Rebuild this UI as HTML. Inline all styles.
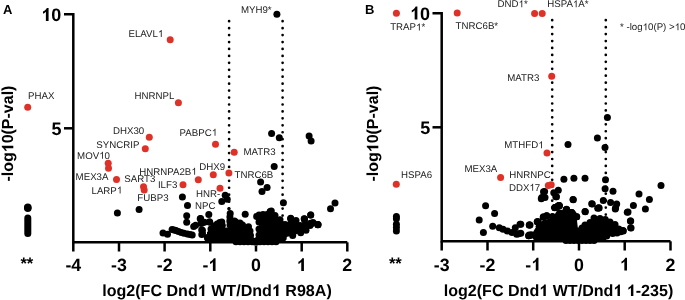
<!DOCTYPE html>
<html><head><meta charset="utf-8"><style>
html,body{margin:0;padding:0;background:#fff;width:685px;height:300px;overflow:hidden}
svg{display:block;font-family:"Liberation Sans",sans-serif;will-change:transform;text-rendering:geometricPrecision}
.l{font-size:9.7px;fill:#222}
.o{fill-opacity:0}
</style></head><body>
<svg width="685" height="300" viewBox="0 0 685 300">
<path d="M64,14.3 H73.3 V242.3 H347.3" fill="none" stroke="#000" stroke-width="2.5"/>
<line x1="73.3" y1="242.3" x2="73.3" y2="251.5" stroke="#000" stroke-width="2.5"/>
<line x1="119.0" y1="242.3" x2="119.0" y2="251.5" stroke="#000" stroke-width="2.5"/>
<line x1="164.6" y1="242.3" x2="164.6" y2="251.5" stroke="#000" stroke-width="2.5"/>
<line x1="210.3" y1="242.3" x2="210.3" y2="251.5" stroke="#000" stroke-width="2.5"/>
<line x1="256.0" y1="242.3" x2="256.0" y2="251.5" stroke="#000" stroke-width="2.5"/>
<line x1="301.7" y1="242.3" x2="301.7" y2="251.5" stroke="#000" stroke-width="2.5"/>
<line x1="347.3" y1="242.3" x2="347.3" y2="251.5" stroke="#000" stroke-width="2.5"/>
<line x1="64" y1="128.3" x2="73.3" y2="128.3" stroke="#000" stroke-width="2.5"/>
<line x1="229.1" y1="21.2" x2="229.1" y2="242" stroke="#000" stroke-width="2.7" stroke-linecap="round" stroke-dasharray="0.01 6.93"/>
<line x1="282.6" y1="21.2" x2="282.6" y2="242" stroke="#000" stroke-width="2.7" stroke-linecap="round" stroke-dasharray="0.01 6.93"/>
<text x="65.39" y="271" font-size="17.8" font-weight="bold">-</text><text x="71.32" y="271" font-size="17.8" font-weight="bold">4</text>
<text x="111.06" y="271" font-size="17.8" font-weight="bold">-</text><text x="116.99" y="271" font-size="17.8" font-weight="bold">3</text>
<text x="156.73" y="271" font-size="17.8" font-weight="bold">-</text><text x="162.66" y="271" font-size="17.8" font-weight="bold">2</text>
<text x="202.40" y="271" font-size="17.8" font-weight="bold">-</text><path d="M7.3,0 H4.6 V-9.2 C3.8,-8.3 2.8,-7.6 1.7,-7.1 V-9.3 C2.4,-9.6 3.2,-10.1 4.0,-10.8 C4.8,-11.5 5.3,-12.2 5.6,-12.9 H7.3 Z" transform="translate(208.33,271) scale(0.9889)"/>
<text x="251.03" y="271" font-size="17.8" font-weight="bold">0</text>
<path d="M7.3,0 H4.6 V-9.2 C3.8,-8.3 2.8,-7.6 1.7,-7.1 V-9.3 C2.4,-9.6 3.2,-10.1 4.0,-10.8 C4.8,-11.5 5.3,-12.2 5.6,-12.9 H7.3 Z" transform="translate(296.70,271) scale(0.9889)"/>
<text x="342.37" y="271" font-size="17.8" font-weight="bold">2</text>
<path d="M7.3,0 H4.6 V-9.2 C3.8,-8.3 2.8,-7.6 1.7,-7.1 V-9.3 C2.4,-9.6 3.2,-10.1 4.0,-10.8 C4.8,-11.5 5.3,-12.2 5.6,-12.9 H7.3 Z" transform="translate(41.28,20.9) scale(1.0000)"/><text x="51.29" y="20.9" font-size="18" font-weight="bold">0</text>
<text x="61.5" y="134.5" font-size="18" font-weight="bold" text-anchor="end">5</text>
<text x="102.2" y="296" font-size="16.08" font-weight="bold">log2(FC Dnd<tspan class="o">1</tspan> WT/Dnd<tspan class="o">1</tspan> R98A)</text>
<text transform="translate(13.3,181.6) rotate(-90)" font-size="16" font-weight="bold">-log<tspan class="o">1</tspan>0(P-val)</text>
<text x="3" y="14" font-size="13" font-weight="bold">A</text>
<text x="20.4" y="268.9" font-size="16.6" font-weight="bold">**</text>
<circle cx="27.8" cy="207.3" r="3.75" fill="#000"/>
<circle cx="27.8" cy="208.3" r="3.75" fill="#000"/>
<rect x="24.3" y="214.6" width="7" height="22.4" rx="3.5" fill="#000"/>
<circle cx="255.9" cy="242.6" r="3.5" fill="#de3228"/>
<circle cx="276.9" cy="14.3" r="3.5" fill="#000"/>
<circle cx="309.1" cy="136" r="3.5" fill="#000"/>
<circle cx="311.1" cy="141.1" r="3.5" fill="#000"/>
<circle cx="271.6" cy="133.4" r="3.5" fill="#000"/>
<circle cx="279.3" cy="137.7" r="3.5" fill="#000"/>
<circle cx="274.2" cy="166.6" r="3.5" fill="#000"/>
<circle cx="260.6" cy="182.1" r="3.5" fill="#000"/>
<circle cx="267.1" cy="187.5" r="3.5" fill="#000"/>
<circle cx="262" cy="191.6" r="3.5" fill="#000"/>
<circle cx="283.4" cy="202.8" r="3.5" fill="#000"/>
<circle cx="270.2" cy="211.5" r="3.5" fill="#000"/>
<circle cx="117.4" cy="213" r="3.5" fill="#000"/>
<circle cx="139.1" cy="209.6" r="3.5" fill="#000"/>
<circle cx="182.4" cy="197" r="3.5" fill="#000"/>
<circle cx="187.5" cy="205.5" r="3.5" fill="#000"/>
<circle cx="186.7" cy="215.7" r="3.5" fill="#000"/>
<circle cx="186.7" cy="222.2" r="3.5" fill="#000"/>
<circle cx="193.7" cy="226.4" r="3.5" fill="#000"/>
<circle cx="163" cy="233" r="3.5" fill="#000"/>
<circle cx="167.5" cy="234.3" r="3.5" fill="#000"/>
<circle cx="172.1" cy="229.6" r="3.5" fill="#000"/>
<circle cx="174" cy="230" r="3.5" fill="#000"/>
<circle cx="176" cy="230.5" r="3.5" fill="#000"/>
<circle cx="178.5" cy="231.5" r="3.5" fill="#000"/>
<circle cx="181.3" cy="232.5" r="3.5" fill="#000"/>
<circle cx="184" cy="233.2" r="3.5" fill="#000"/>
<circle cx="187.4" cy="234" r="3.5" fill="#000"/>
<circle cx="190" cy="234.5" r="3.5" fill="#000"/>
<circle cx="192.2" cy="234.9" r="3.5" fill="#000"/>
<circle cx="221.8" cy="201.4" r="3.5" fill="#000"/>
<circle cx="227.2" cy="199.3" r="3.5" fill="#000"/>
<circle cx="225.2" cy="195.2" r="3.5" fill="#000"/>
<circle cx="335" cy="203" r="3.5" fill="#000"/>
<circle cx="330.5" cy="208.7" r="3.5" fill="#000"/>
<circle cx="310.7" cy="215" r="3.5" fill="#000"/>
<circle cx="304.5" cy="219.2" r="3.5" fill="#000"/>
<circle cx="318" cy="224.5" r="3.5" fill="#000"/>
<circle cx="310.5" cy="223.2" r="3.5" fill="#000"/>
<circle cx="200.2" cy="218.7" r="3.5" fill="#000"/>
<circle cx="202.5" cy="222.5" r="3.5" fill="#000"/>
<circle cx="201.7" cy="230" r="3.5" fill="#000"/>
<circle cx="202.5" cy="233.7" r="3.5" fill="#000"/>
<circle cx="208.8" cy="214.4" r="3.5" fill="#000"/>
<circle cx="209.5" cy="221.7" r="3.5" fill="#000"/>
<circle cx="245.2" cy="214.2" r="3.5" fill="#000"/>
<circle cx="259" cy="215" r="3.5" fill="#000"/>
<circle cx="256.7" cy="216.5" r="3.5" fill="#000"/>
<circle cx="270.2" cy="212" r="3.5" fill="#000"/>
<circle cx="279.5" cy="220.2" r="3.5" fill="#000"/>
<circle cx="290.7" cy="218.7" r="3.5" fill="#000"/>
<circle cx="304.2" cy="218.7" r="3.5" fill="#000"/>
<circle cx="311" cy="224" r="3.5" fill="#000"/>
<circle cx="317.7" cy="224.7" r="3.5" fill="#000"/>
<circle cx="207.7" cy="237.5" r="3.5" fill="#000"/>
<circle cx="200.6" cy="218.5" r="3.5" fill="#000"/>
<circle cx="201.2" cy="223.4" r="3.5" fill="#000"/>
<circle cx="204.3" cy="222.2" r="3.5" fill="#000"/>
<circle cx="209.8" cy="222.2" r="3.5" fill="#000"/>
<circle cx="202.4" cy="230.2" r="3.5" fill="#000"/>
<circle cx="201.8" cy="234.5" r="3.5" fill="#000"/>
<circle cx="195.6" cy="225.3" r="3.5" fill="#000"/>
<circle cx="211" cy="229" r="3.5" fill="#000"/>
<circle cx="214" cy="226" r="3.5" fill="#000"/>
<circle cx="217.2" cy="224" r="3.5" fill="#000"/>
<circle cx="219.7" cy="222.5" r="3.5" fill="#000"/>
<circle cx="221.8" cy="222" r="3.5" fill="#000"/>
<circle cx="222.3" cy="225.5" r="3.5" fill="#000"/>
<circle cx="226.3" cy="231" r="3.5" fill="#000"/>
<circle cx="230.2" cy="213.6" r="3.5" fill="#000"/>
<circle cx="229.9" cy="217" r="3.5" fill="#000"/>
<circle cx="229.8" cy="221" r="3.5" fill="#000"/>
<circle cx="230" cy="225" r="3.5" fill="#000"/>
<circle cx="234.5" cy="221" r="3.5" fill="#000"/>
<circle cx="235.7" cy="222" r="3.5" fill="#000"/>
<circle cx="240" cy="223" r="3.5" fill="#000"/>
<circle cx="242.5" cy="225" r="3.5" fill="#000"/>
<circle cx="248.5" cy="226.7" r="3.5" fill="#000"/>
<circle cx="250" cy="231" r="3.5" fill="#000"/>
<circle cx="250.5" cy="235.5" r="3.5" fill="#000"/>
<circle cx="259" cy="229" r="3.5" fill="#000"/>
<circle cx="259" cy="235" r="3.5" fill="#000"/>
<circle cx="258.5" cy="216.5" r="3.5" fill="#000"/>
<circle cx="259" cy="222" r="3.5" fill="#000"/>
<circle cx="263" cy="214.5" r="3.5" fill="#000"/>
<circle cx="267" cy="214.5" r="3.5" fill="#000"/>
<circle cx="270.2" cy="212.5" r="3.5" fill="#000"/>
<circle cx="271.3" cy="211" r="3.5" fill="#000"/>
<circle cx="275" cy="215.5" r="3.5" fill="#000"/>
<circle cx="280" cy="219.7" r="3.5" fill="#000"/>
<circle cx="285" cy="224.5" r="3.5" fill="#000"/>
<circle cx="290.7" cy="218.3" r="3.5" fill="#000"/>
<circle cx="296" cy="220.5" r="3.5" fill="#000"/>
<circle cx="300" cy="225.5" r="3.5" fill="#000"/>
<circle cx="304.4" cy="219" r="3.5" fill="#000"/>
<circle cx="310.7" cy="215" r="3.5" fill="#000"/>
<circle cx="310.7" cy="223.7" r="3.5" fill="#000"/>
<circle cx="318" cy="224.7" r="3.5" fill="#000"/>
<circle cx="313" cy="222.5" r="3.5" fill="#000"/>
<circle cx="310" cy="225.5" r="3.5" fill="#000"/>
<circle cx="306" cy="230.2" r="3.5" fill="#000"/>
<circle cx="300.7" cy="232.8" r="3.5" fill="#000"/>
<circle cx="292.7" cy="235.5" r="3.5" fill="#000"/>
<circle cx="283.3" cy="237.8" r="3.5" fill="#000"/>
<circle cx="279" cy="238.8" r="3.5" fill="#000"/>
<circle cx="207.5" cy="238" r="3.5" fill="#000"/>
<circle cx="210" cy="238.5" r="3.5" fill="#000"/>
<circle cx="236" cy="241.7" r="3.5" fill="#000"/>
<circle cx="240" cy="241.7" r="3.5" fill="#000"/>
<circle cx="244" cy="241.7" r="3.5" fill="#000"/>
<circle cx="248" cy="241.7" r="3.5" fill="#000"/>
<circle cx="252" cy="241.7" r="3.5" fill="#000"/>
<circle cx="256" cy="241.7" r="3.5" fill="#000"/>
<circle cx="260" cy="241.7" r="3.5" fill="#000"/>
<circle cx="264" cy="241.7" r="3.5" fill="#000"/>
<circle cx="268" cy="241.7" r="3.5" fill="#000"/>
<circle cx="272" cy="241.7" r="3.5" fill="#000"/>
<circle cx="276" cy="241.7" r="3.5" fill="#000"/>
<circle cx="228.9" cy="208.7" r="1.7" fill="#000"/>
<polygon points="207,242 207,232 211,229 214,226 219.7,222.5 222.3,225.5 226.3,231 230,225 229.9,217 235.7,222 242.5,225 248.5,226.7 250,231 250.5,235.5 254.5,238 259,235 259,222 258.5,216.5 263,214.5 270.2,212.5 275,215.5 280,219.7 285,224.5 290.7,218.3 296,220.5 300,225.5 304.4,219 310.7,223.7 306,230.2 300.7,232.8 292.7,235.5 283.3,237.8 279,240 279,242" fill="#000"/>
<circle cx="27.7" cy="107.3" r="3.5" fill="#de3228"/>
<circle cx="170.2" cy="39.7" r="3.5" fill="#de3228"/>
<circle cx="178.4" cy="102.8" r="3.5" fill="#de3228"/>
<circle cx="149.3" cy="137.3" r="3.5" fill="#de3228"/>
<circle cx="145.3" cy="148.7" r="3.5" fill="#de3228"/>
<circle cx="215.5" cy="144.2" r="3.5" fill="#de3228"/>
<circle cx="234.2" cy="152.2" r="3.5" fill="#de3228"/>
<circle cx="108.2" cy="163.2" r="3.5" fill="#de3228"/>
<circle cx="108.5" cy="168.3" r="3.5" fill="#de3228"/>
<circle cx="116.5" cy="179.5" r="3.5" fill="#de3228"/>
<circle cx="143.5" cy="186.7" r="3.5" fill="#de3228"/>
<circle cx="144.2" cy="189.9" r="3.5" fill="#de3228"/>
<circle cx="198.3" cy="179.7" r="3.5" fill="#de3228"/>
<circle cx="183" cy="184.7" r="3.5" fill="#de3228"/>
<circle cx="213.3" cy="174.7" r="3.5" fill="#de3228"/>
<circle cx="228.9" cy="172.9" r="3.5" fill="#de3228"/>
<circle cx="220" cy="188.3" r="3.5" fill="#de3228"/>
<text x="28" y="98.7" class="l">PHAX</text>
<text x="128.5" y="36.9" class="l">ELAVL<tspan class="o">1</tspan></text>
<text x="134.5" y="98.7" class="l">HNRNPL</text>
<text x="240.9" y="13.3" class="l">MYH9*</text>
<text x="113" y="133.8" class="l">DHX30</text>
<text x="96.3" y="148" class="l">SYNCRIP</text>
<text x="179.6" y="135.8" class="l">PABPC<tspan class="o">1</tspan></text>
<text x="77.1" y="158.8" class="l">MOV<tspan class="o">1</tspan>0</text>
<text x="243.5" y="155" class="l">MATR3</text>
<text x="139.3" y="174.8" class="l">HNRNPA2B<tspan class="o">1</tspan></text>
<text x="199.3" y="170" class="l">DHX9</text>
<text x="75.6" y="179.6" class="l">MEX3A</text>
<text x="124.3" y="182" class="l">SART3</text>
<text x="157.9" y="188" class="l">ILF3</text>
<text x="234.5" y="177.8" class="l">TNRC6B</text>
<text x="91.5" y="193.5" class="l">LARP<tspan class="o">1</tspan></text>
<text x="137.3" y="201" class="l">FUBP3</text>
<text x="196" y="197.3" class="l">HNR-</text>
<text x="195.1" y="209" class="l">NPC</text>
<path d="M432.5,13.2 H441.7 V241.3 H670.5" fill="none" stroke="#000" stroke-width="2.5"/>
<line x1="441.7" y1="241.3" x2="441.7" y2="250.5" stroke="#000" stroke-width="2.5"/>
<line x1="487.5" y1="241.3" x2="487.5" y2="250.5" stroke="#000" stroke-width="2.5"/>
<line x1="533.2" y1="241.3" x2="533.2" y2="250.5" stroke="#000" stroke-width="2.5"/>
<line x1="579.0" y1="241.3" x2="579.0" y2="250.5" stroke="#000" stroke-width="2.5"/>
<line x1="624.7" y1="241.3" x2="624.7" y2="250.5" stroke="#000" stroke-width="2.5"/>
<line x1="670.5" y1="241.3" x2="670.5" y2="250.5" stroke="#000" stroke-width="2.5"/>
<line x1="432.5" y1="127.3" x2="441.7" y2="127.3" stroke="#000" stroke-width="2.5"/>
<line x1="552.2" y1="20.2" x2="552.2" y2="241" stroke="#000" stroke-width="2.7" stroke-linecap="round" stroke-dasharray="0.01 6.93"/>
<line x1="605.8" y1="20.2" x2="605.8" y2="241" stroke="#000" stroke-width="2.7" stroke-linecap="round" stroke-dasharray="0.01 6.93"/>
<text x="433.79" y="270.6" font-size="17.8" font-weight="bold">-</text><text x="439.72" y="270.6" font-size="17.8" font-weight="bold">3</text>
<text x="479.55" y="270.6" font-size="17.8" font-weight="bold">-</text><text x="485.48" y="270.6" font-size="17.8" font-weight="bold">2</text>
<text x="525.31" y="270.6" font-size="17.8" font-weight="bold">-</text><path d="M7.3,0 H4.6 V-9.2 C3.8,-8.3 2.8,-7.6 1.7,-7.1 V-9.3 C2.4,-9.6 3.2,-10.1 4.0,-10.8 C4.8,-11.5 5.3,-12.2 5.6,-12.9 H7.3 Z" transform="translate(531.24,270.6) scale(0.9889)"/>
<text x="574.03" y="270.6" font-size="17.8" font-weight="bold">0</text>
<path d="M7.3,0 H4.6 V-9.2 C3.8,-8.3 2.8,-7.6 1.7,-7.1 V-9.3 C2.4,-9.6 3.2,-10.1 4.0,-10.8 C4.8,-11.5 5.3,-12.2 5.6,-12.9 H7.3 Z" transform="translate(619.79,270.6) scale(0.9889)"/>
<text x="665.55" y="270.6" font-size="17.8" font-weight="bold">2</text>
<path d="M7.3,0 H4.6 V-9.2 C3.8,-8.3 2.8,-7.6 1.7,-7.1 V-9.3 C2.4,-9.6 3.2,-10.1 4.0,-10.8 C4.8,-11.5 5.3,-12.2 5.6,-12.9 H7.3 Z" transform="translate(410.08,19.5) scale(1.0000)"/><text x="420.09" y="19.5" font-size="18" font-weight="bold">0</text>
<text x="430.2" y="134" font-size="18" font-weight="bold" text-anchor="end">5</text>
<text x="443.7" y="296" font-size="16.08" font-weight="bold">log2(FC Dnd<tspan class="o">1</tspan> WT/Dnd<tspan class="o">1</tspan> <tspan class="o">1</tspan>-235)</text>
<text x="365" y="14" font-size="13" font-weight="bold">B</text>
<text transform="translate(378.3,181.6) rotate(-90)" font-size="16" font-weight="bold">-log<tspan class="o">1</tspan>0(P-val)</text>
<text x="388.9" y="269" font-size="16.6" font-weight="bold">**</text>
<circle cx="396.4" cy="216.6" r="3.5" fill="#000"/>
<circle cx="396.4" cy="218.75" r="3.5" fill="#000"/>
<circle cx="396.4" cy="224.25" r="3.5" fill="#000"/>
<circle cx="396.4" cy="227.5" r="3.5" fill="#000"/>
<circle cx="396.4" cy="231" r="3.5" fill="#000"/>
<circle cx="607.4" cy="117.4" r="3.5" fill="#000"/>
<circle cx="597.4" cy="138" r="3.5" fill="#000"/>
<circle cx="568" cy="144.4" r="3.5" fill="#000"/>
<circle cx="605" cy="147.6" r="3.5" fill="#000"/>
<circle cx="563.9" cy="179.3" r="3.5" fill="#000"/>
<circle cx="573.9" cy="178.3" r="3.5" fill="#000"/>
<circle cx="585" cy="178.3" r="3.5" fill="#000"/>
<circle cx="605.5" cy="179.8" r="3.5" fill="#000"/>
<circle cx="605.1" cy="188.8" r="3.5" fill="#000"/>
<circle cx="613" cy="191.2" r="3.5" fill="#000"/>
<circle cx="544.6" cy="191.6" r="3.5" fill="#000"/>
<circle cx="541.8" cy="197.6" r="3.5" fill="#000"/>
<circle cx="543.5" cy="191.7" r="3.5" fill="#000"/>
<circle cx="553.8" cy="192.7" r="3.5" fill="#000"/>
<circle cx="558.3" cy="190.3" r="3.5" fill="#000"/>
<circle cx="556.5" cy="196.7" r="3.5" fill="#000"/>
<circle cx="573" cy="199.4" r="3.5" fill="#000"/>
<circle cx="592.3" cy="204" r="3.5" fill="#000"/>
<circle cx="599.1" cy="208.1" r="3.5" fill="#000"/>
<circle cx="603.3" cy="200.4" r="3.5" fill="#000"/>
<circle cx="610.6" cy="202.6" r="3.5" fill="#000"/>
<circle cx="615.6" cy="208.1" r="3.5" fill="#000"/>
<circle cx="616.7" cy="204" r="3.5" fill="#000"/>
<circle cx="554.7" cy="207.7" r="3.5" fill="#000"/>
<circle cx="559.3" cy="205.5" r="3.5" fill="#000"/>
<circle cx="566.6" cy="209.2" r="3.5" fill="#000"/>
<circle cx="585" cy="211.4" r="3.5" fill="#000"/>
<circle cx="661" cy="185.6" r="3.5" fill="#000"/>
<circle cx="639" cy="194" r="3.5" fill="#000"/>
<circle cx="649.4" cy="199.4" r="3.5" fill="#000"/>
<circle cx="633.4" cy="205.4" r="3.5" fill="#000"/>
<circle cx="645.4" cy="209" r="3.5" fill="#000"/>
<circle cx="628" cy="212" r="3.5" fill="#000"/>
<circle cx="630.4" cy="221" r="3.5" fill="#000"/>
<circle cx="631" cy="228" r="3.5" fill="#000"/>
<circle cx="623" cy="230.6" r="3.5" fill="#000"/>
<circle cx="618.7" cy="229" r="3.5" fill="#000"/>
<circle cx="485.6" cy="205.8" r="3.5" fill="#000"/>
<circle cx="494.6" cy="213.6" r="3.5" fill="#000"/>
<circle cx="479.2" cy="220" r="3.5" fill="#000"/>
<circle cx="492.7" cy="226.3" r="3.5" fill="#000"/>
<circle cx="483.4" cy="232.6" r="3.5" fill="#000"/>
<circle cx="499.3" cy="227.7" r="3.5" fill="#000"/>
<circle cx="503" cy="229.3" r="3.5" fill="#000"/>
<circle cx="507.3" cy="231" r="3.5" fill="#000"/>
<circle cx="512" cy="232.6" r="3.5" fill="#000"/>
<circle cx="516.7" cy="234.3" r="3.5" fill="#000"/>
<circle cx="515.3" cy="227.7" r="3.5" fill="#000"/>
<circle cx="520" cy="224.3" r="3.5" fill="#000"/>
<circle cx="518.7" cy="233.7" r="3.5" fill="#000"/>
<circle cx="529.3" cy="225" r="3.5" fill="#000"/>
<circle cx="528.7" cy="235.7" r="3.5" fill="#000"/>
<circle cx="531.3" cy="235" r="3.5" fill="#000"/>
<circle cx="537.3" cy="221.7" r="3.5" fill="#000"/>
<circle cx="539.3" cy="226.3" r="3.5" fill="#000"/>
<circle cx="536.7" cy="235.7" r="3.5" fill="#000"/>
<circle cx="543.3" cy="217" r="3.5" fill="#000"/>
<circle cx="538.3" cy="221.7" r="3.5" fill="#000"/>
<circle cx="530" cy="225" r="3.5" fill="#000"/>
<circle cx="520.8" cy="224.2" r="3.5" fill="#000"/>
<circle cx="529.2" cy="235" r="3.5" fill="#000"/>
<circle cx="520.8" cy="233.3" r="3.5" fill="#000"/>
<circle cx="541.3" cy="198.7" r="3.5" fill="#000"/>
<circle cx="545" cy="197.5" r="3.5" fill="#000"/>
<circle cx="555.8" cy="196.7" r="3.5" fill="#000"/>
<circle cx="573.3" cy="199.7" r="3.5" fill="#000"/>
<circle cx="555" cy="207.5" r="3.5" fill="#000"/>
<circle cx="559.2" cy="205.8" r="3.5" fill="#000"/>
<circle cx="566.7" cy="210" r="3.5" fill="#000"/>
<circle cx="571.7" cy="212.5" r="3.5" fill="#000"/>
<circle cx="576.7" cy="216.7" r="3.5" fill="#000"/>
<circle cx="546.7" cy="215.8" r="3.5" fill="#000"/>
<circle cx="552.5" cy="216.7" r="3.5" fill="#000"/>
<circle cx="585.3" cy="211.7" r="3.5" fill="#000"/>
<circle cx="598.7" cy="207.7" r="3.5" fill="#000"/>
<circle cx="615.3" cy="209" r="3.5" fill="#000"/>
<circle cx="627.3" cy="212.3" r="3.5" fill="#000"/>
<circle cx="630.7" cy="221" r="3.5" fill="#000"/>
<circle cx="630.7" cy="227.7" r="3.5" fill="#000"/>
<circle cx="623.3" cy="231" r="3.5" fill="#000"/>
<circle cx="558" cy="206" r="3.5" fill="#000"/>
<circle cx="566.2" cy="209.7" r="3.5" fill="#000"/>
<circle cx="573" cy="214.2" r="3.5" fill="#000"/>
<circle cx="591.7" cy="203.7" r="3.5" fill="#000"/>
<circle cx="597.7" cy="208.2" r="3.5" fill="#000"/>
<circle cx="594" cy="218" r="3.5" fill="#000"/>
<circle cx="536.7" cy="235.7" r="3.5" fill="#000"/>
<circle cx="528.7" cy="235.7" r="3.5" fill="#000"/>
<circle cx="531.3" cy="235" r="3.5" fill="#000"/>
<circle cx="529.3" cy="225" r="3.5" fill="#000"/>
<circle cx="537.3" cy="221.7" r="3.5" fill="#000"/>
<circle cx="539.3" cy="226.3" r="3.5" fill="#000"/>
<circle cx="543.3" cy="217" r="3.5" fill="#000"/>
<circle cx="546.7" cy="215.8" r="3.5" fill="#000"/>
<circle cx="552.5" cy="216.7" r="3.5" fill="#000"/>
<circle cx="558" cy="206" r="3.5" fill="#000"/>
<circle cx="559.2" cy="205.8" r="3.5" fill="#000"/>
<circle cx="555" cy="207.5" r="3.5" fill="#000"/>
<circle cx="566.2" cy="209.7" r="3.5" fill="#000"/>
<circle cx="566.7" cy="210" r="3.5" fill="#000"/>
<circle cx="571.7" cy="212.5" r="3.5" fill="#000"/>
<circle cx="573" cy="214.2" r="3.5" fill="#000"/>
<circle cx="576.7" cy="216.7" r="3.5" fill="#000"/>
<circle cx="578.2" cy="231" r="3.5" fill="#000"/>
<circle cx="582" cy="228" r="3.5" fill="#000"/>
<circle cx="585" cy="225" r="3.5" fill="#000"/>
<circle cx="590" cy="222.5" r="3.5" fill="#000"/>
<circle cx="595" cy="219.5" r="3.5" fill="#000"/>
<circle cx="600" cy="218.5" r="3.5" fill="#000"/>
<circle cx="605.3" cy="219.5" r="3.5" fill="#000"/>
<circle cx="610" cy="222" r="3.5" fill="#000"/>
<circle cx="615" cy="224.5" r="3.5" fill="#000"/>
<circle cx="620" cy="230" r="3.5" fill="#000"/>
<circle cx="620.7" cy="231.8" r="3.5" fill="#000"/>
<circle cx="617" cy="233" r="3.5" fill="#000"/>
<circle cx="612.6" cy="233.5" r="3.5" fill="#000"/>
<circle cx="606.7" cy="236" r="3.5" fill="#000"/>
<circle cx="603" cy="238" r="3.5" fill="#000"/>
<circle cx="548" cy="238.5" r="3.5" fill="#000"/>
<circle cx="556" cy="238.5" r="3.5" fill="#000"/>
<circle cx="566" cy="240.4" r="3.5" fill="#000"/>
<circle cx="570" cy="240.4" r="3.5" fill="#000"/>
<circle cx="574" cy="240.4" r="3.5" fill="#000"/>
<circle cx="578" cy="240.4" r="3.5" fill="#000"/>
<circle cx="582" cy="240.4" r="3.5" fill="#000"/>
<circle cx="586" cy="240.4" r="3.5" fill="#000"/>
<circle cx="590" cy="240.4" r="3.5" fill="#000"/>
<circle cx="594" cy="240.4" r="3.5" fill="#000"/>
<polygon points="533,239 533,232 537.3,225 543.3,220 552.5,218 558,209 566.5,211 573,215 576.7,218 578.2,231 582,228 585,225 590,222.5 595,219.5 600,218.5 605.3,219.5 610,222 615,224.5 620,230 620.7,231.8 612.6,233.5 606.7,236 603,239 600,242 536,242" fill="#000"/>
<circle cx="396.4" cy="13.3" r="3.5" fill="#de3228"/>
<circle cx="457.2" cy="13.1" r="3.5" fill="#de3228"/>
<circle cx="534.6" cy="13.4" r="3.5" fill="#de3228"/>
<circle cx="542.2" cy="13.4" r="3.5" fill="#de3228"/>
<circle cx="551.7" cy="76.3" r="3.5" fill="#de3228"/>
<circle cx="547" cy="153" r="3.5" fill="#de3228"/>
<circle cx="500.6" cy="177.5" r="3.5" fill="#de3228"/>
<circle cx="548.3" cy="185.5" r="3.5" fill="#de3228"/>
<circle cx="551.2" cy="184.8" r="3.5" fill="#de3228"/>
<circle cx="396.3" cy="184.3" r="3.5" fill="#de3228"/>
<text x="390.2" y="30.4" class="l">TRAP<tspan class="o">1</tspan>*</text>
<text x="455.6" y="29" class="l">TNRC6B*</text>
<text x="497.5" y="7.2" class="l">DND<tspan class="o">1</tspan>*</text>
<text x="547.2" y="7.2" class="l">HSPA<tspan class="o">1</tspan>A*</text>
<text x="507.3" y="80.8" class="l">MATR3</text>
<text x="504.3" y="148.2" class="l">MTHFD<tspan class="o">1</tspan></text>
<text x="464.4" y="171.8" class="l">MEX3A</text>
<text x="509.2" y="178" class="l">HNRNPC</text>
<text x="508.9" y="190.8" class="l">DDX<tspan class="o">1</tspan>7</text>
<text x="401" y="178" class="l">HSPA6</text>
<text x="620" y="30.3" class="l">* -log<tspan class="o">1</tspan>0(P) &gt;<tspan class="o">1</tspan>0</text>
<path d="M6.528,0 H4.116 V-8.217 C3.393,-7.413 2.508,-6.786 1.512,-6.336 V-8.313 C2.139,-8.571 2.862,-9.021 3.570,-9.648 C4.293,-10.275 4.728,-10.902 5.001,-11.529 H6.528 Z" transform="translate(197.76,296.00)" fill="#000"/>
<path d="M6.528,0 H4.116 V-8.217 C3.393,-7.413 2.508,-6.786 1.512,-6.336 V-8.313 C2.139,-8.571 2.862,-9.021 3.570,-9.648 C4.293,-10.275 4.728,-10.902 5.001,-11.529 H6.528 Z" transform="translate(271.90,296.00)" fill="#000"/>
<path d="M6.496,0 H4.096 V-8.176 C3.376,-7.376 2.496,-6.752 1.504,-6.304 V-8.272 C2.128,-8.528 2.848,-8.976 3.552,-9.600 C4.272,-10.224 4.704,-10.848 4.976,-11.472 H6.496 Z" transform="translate(13.3,181.6) rotate(-90) translate(29.33,0.00)" fill="#000"/>
<path d="M3.734,0 H2.861 V-5.432 C2.619,-5.189 2.279,-4.947 1.164,-4.365 V-5.189 C1.649,-5.432 2.085,-5.723 2.425,-6.062 C2.764,-6.402 3.007,-6.693 3.104,-6.945 H3.734 Z" transform="translate(157.95,36.90)" fill="#222"/>
<path d="M3.734,0 H2.861 V-5.432 C2.619,-5.189 2.279,-4.947 1.164,-4.365 V-5.189 C1.649,-5.432 2.085,-5.723 2.425,-6.062 C2.764,-6.402 3.007,-6.693 3.104,-6.945 H3.734 Z" transform="translate(211.73,135.80)" fill="#222"/>
<path d="M3.734,0 H2.861 V-5.432 C2.619,-5.189 2.279,-4.947 1.164,-4.365 V-5.189 C1.649,-5.432 2.085,-5.723 2.425,-6.062 C2.764,-6.402 3.007,-6.693 3.104,-6.945 H3.734 Z" transform="translate(99.18,158.80)" fill="#222"/>
<path d="M3.734,0 H2.861 V-5.432 C2.619,-5.189 2.279,-4.947 1.164,-4.365 V-5.189 C1.649,-5.432 2.085,-5.723 2.425,-6.062 C2.764,-6.402 3.007,-6.693 3.104,-6.945 H3.734 Z" transform="translate(191.35,174.80)" fill="#222"/>
<path d="M3.734,0 H2.861 V-5.432 C2.619,-5.189 2.279,-4.947 1.164,-4.365 V-5.189 C1.649,-5.432 2.085,-5.723 2.425,-6.062 C2.764,-6.402 3.007,-6.693 3.104,-6.945 H3.734 Z" transform="translate(116.81,193.50)" fill="#222"/>
<path d="M6.528,0 H4.116 V-8.217 C3.393,-7.413 2.508,-6.786 1.512,-6.336 V-8.313 C2.139,-8.571 2.862,-9.021 3.570,-9.648 C4.293,-10.275 4.728,-10.902 5.001,-11.529 H6.528 Z" transform="translate(539.26,296.00)" fill="#000"/>
<path d="M6.528,0 H4.116 V-8.217 C3.393,-7.413 2.508,-6.786 1.512,-6.336 V-8.313 C2.139,-8.571 2.862,-9.021 3.570,-9.648 C4.293,-10.275 4.728,-10.902 5.001,-11.529 H6.528 Z" transform="translate(613.40,296.00)" fill="#000"/>
<path d="M6.528,0 H4.116 V-8.217 C3.393,-7.413 2.508,-6.786 1.512,-6.336 V-8.313 C2.139,-8.571 2.862,-9.021 3.570,-9.648 C4.293,-10.275 4.728,-10.902 5.001,-11.529 H6.528 Z" transform="translate(626.83,296.00)" fill="#000"/>
<path d="M6.496,0 H4.096 V-8.176 C3.376,-7.376 2.496,-6.752 1.504,-6.304 V-8.272 C2.128,-8.528 2.848,-8.976 3.552,-9.600 C4.272,-10.224 4.704,-10.848 4.976,-11.472 H6.496 Z" transform="translate(378.3,181.6) rotate(-90) translate(29.33,0.00)" fill="#000"/>
<path d="M3.734,0 H2.861 V-5.432 C2.619,-5.189 2.279,-4.947 1.164,-4.365 V-5.189 C1.649,-5.432 2.085,-5.723 2.425,-6.062 C2.764,-6.402 3.007,-6.693 3.104,-6.945 H3.734 Z" transform="translate(416.04,30.40)" fill="#222"/>
<path d="M3.734,0 H2.861 V-5.432 C2.619,-5.189 2.279,-4.947 1.164,-4.365 V-5.189 C1.649,-5.432 2.085,-5.723 2.425,-6.062 C2.764,-6.402 3.007,-6.693 3.104,-6.945 H3.734 Z" transform="translate(518.50,7.20)" fill="#222"/>
<path d="M3.734,0 H2.861 V-5.432 C2.619,-5.189 2.279,-4.947 1.164,-4.365 V-5.189 C1.649,-5.432 2.085,-5.723 2.425,-6.062 C2.764,-6.402 3.007,-6.693 3.104,-6.945 H3.734 Z" transform="translate(572.87,7.20)" fill="#222"/>
<path d="M3.734,0 H2.861 V-5.432 C2.619,-5.189 2.279,-4.947 1.164,-4.365 V-5.189 C1.649,-5.432 2.085,-5.723 2.425,-6.062 C2.764,-6.402 3.007,-6.693 3.104,-6.945 H3.734 Z" transform="translate(538.21,148.20)" fill="#222"/>
<path d="M3.734,0 H2.861 V-5.432 C2.619,-5.189 2.279,-4.947 1.164,-4.365 V-5.189 C1.649,-5.432 2.085,-5.723 2.425,-6.062 C2.764,-6.402 3.007,-6.693 3.104,-6.945 H3.734 Z" transform="translate(529.37,190.80)" fill="#222"/>
<path d="M3.734,0 H2.861 V-5.432 C2.619,-5.189 2.279,-4.947 1.164,-4.365 V-5.189 C1.649,-5.432 2.085,-5.723 2.425,-6.062 C2.764,-6.402 3.007,-6.693 3.104,-6.945 H3.734 Z" transform="translate(642.62,30.30)" fill="#222"/>
<path d="M3.734,0 H2.861 V-5.432 C2.619,-5.189 2.279,-4.947 1.164,-4.365 V-5.189 C1.649,-5.432 2.085,-5.723 2.425,-6.062 C2.764,-6.402 3.007,-6.693 3.104,-6.945 H3.734 Z" transform="translate(674.67,30.30)" fill="#222"/>
</svg>
</body></html>
